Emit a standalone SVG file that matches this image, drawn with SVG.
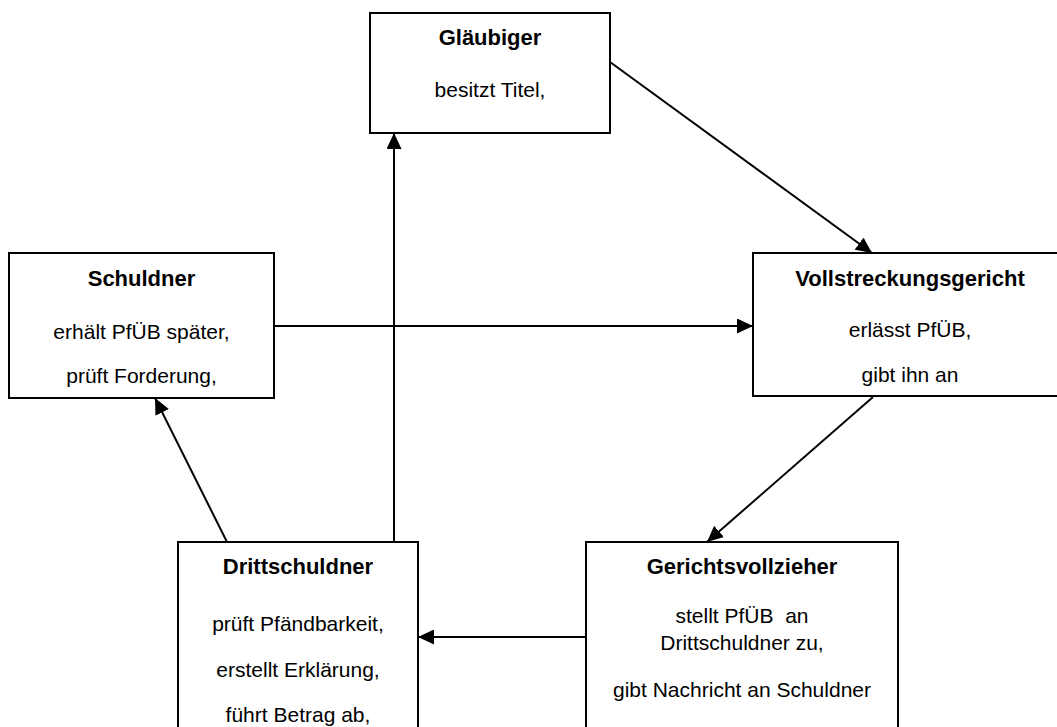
<svg xmlns="http://www.w3.org/2000/svg" width="1057" height="727" viewBox="0 0 1057 727">
<style>
.box{fill:#fff;stroke:#000;stroke-width:2}
.t{font-family:"Liberation Sans",Arial,sans-serif;font-size:22px;font-weight:bold;text-anchor:middle;fill:#000}
.b{font-family:"Liberation Sans",Arial,sans-serif;font-size:21px;text-anchor:middle;fill:#000}
.c{fill:none;stroke:#000;stroke-width:2}
</style>
<defs>
<marker id="ah" markerWidth="16" markerHeight="15" refX="16" refY="7.5" orient="auto" markerUnits="userSpaceOnUse">
<path d="M0,0 L16,7.5 L0,15 Z" fill="#000"/>
</marker>
</defs>
<rect width="1057" height="727" fill="#fff"/>
<g id="connectors">
<line class="c" x1="610" y1="62" x2="872" y2="253" marker-end="url(#ah)"/>
<line class="c" x1="274" y1="326" x2="753" y2="326" marker-end="url(#ah)"/>
<line class="c" x1="873" y1="397" x2="707" y2="542" marker-end="url(#ah)"/>
<line class="c" x1="586" y1="637" x2="418" y2="637" marker-end="url(#ah)"/>
<line class="c" x1="394" y1="542" x2="394" y2="133" marker-end="url(#ah)"/>
<line class="c" x1="227" y1="542" x2="155" y2="398" marker-end="url(#ah)"/>
</g>
<g id="glaeubiger">
<rect class="box" x="370" y="13" width="240" height="120"/>
<text class="t" x="490" y="45">Gläubiger</text>
<text class="b" x="490" y="97">besitzt Titel,</text>
</g>
<g id="schuldner">
<rect class="box" x="9" y="253" width="265" height="145"/>
<text class="t" x="141.5" y="286">Schuldner</text>
<text class="b" x="141.5" y="339">erhält PfÜB später,</text>
<text class="b" x="141.5" y="383">prüft Forderung,</text>
</g>
<g id="vollstreckungsgericht">
<rect class="box" x="753" y="253" width="314" height="143"/>
<text class="t" x="910" y="286">Vollstreckungsgericht</text>
<text class="b" x="910" y="337">erlässt PfÜB,</text>
<text class="b" x="910" y="382">gibt ihn an</text>
</g>
<g id="drittschuldner">
<rect class="box" x="178" y="542" width="240" height="200"/>
<text class="t" x="298" y="574">Drittschuldner</text>
<text class="b" x="298" y="631">prüft Pfändbarkeit,</text>
<text class="b" x="298" y="677">erstellt Erklärung,</text>
<text class="b" x="298" y="722">führt Betrag ab,</text>
</g>
<g id="gerichtsvollzieher">
<rect class="box" x="586" y="542" width="312" height="200"/>
<text class="t" x="742" y="574">Gerichtsvollzieher</text>
<text class="b" x="742" y="623" xml:space="preserve">stellt PfÜB  an</text>
<text class="b" x="742" y="650">Drittschuldner zu,</text>
<text class="b" x="742" y="697">gibt Nachricht an Schuldner</text>
</g>
</svg>
